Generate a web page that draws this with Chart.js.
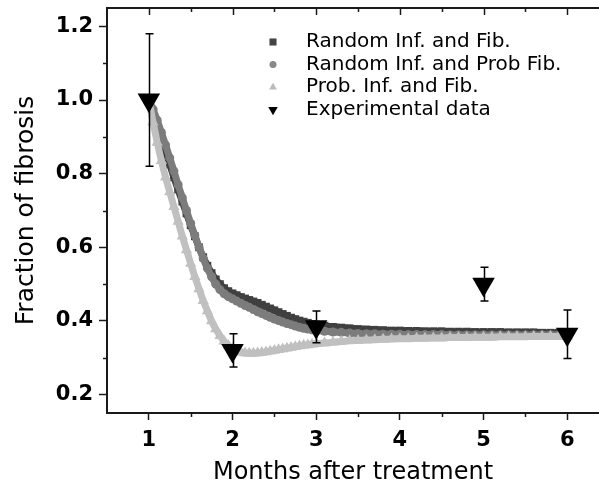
<!DOCTYPE html>
<html>
<head>
<meta charset="utf-8">
<script src="https://cdn.jsdelivr.net/npm/chart.js@4.4.0/dist/chart.umd.min.js"></script>
<style>
  html, body { margin: 0; padding: 0; background: #fff; overflow: hidden; }
  #wrap { width: 599px; height: 488px; position: relative; }
  #wrap canvas { display: block; }
</style>
</head>
<body>
<div id="wrap"><canvas id="fibrosisChart"></canvas></div>
<script>
// months after treatment for the simulated curves
const months = [1, 1.05, 1.1, 1.15, 1.2, 1.25, 1.3, 1.35, 1.4, 1.45, 1.5, 1.55, 1.6, 1.65, 1.7, 1.75, 1.8, 1.85, 1.9, 1.95, 2,
  2.05, 2.1, 2.15, 2.2, 2.25, 2.3, 2.35, 2.4, 2.45, 2.5, 2.55, 2.6, 2.65, 2.7, 2.75, 2.8, 2.85, 2.9, 2.95, 3,
  3.1, 3.2, 3.3, 3.4, 3.5, 3.6, 3.7, 3.8, 3.9, 4, 4.1, 4.2, 4.3, 4.4, 4.5, 4.6, 4.7, 4.8, 4.9, 5,
  5.1, 5.2, 5.3, 5.4, 5.5, 5.6, 5.7, 5.8, 5.9, 6];

const randomInfFib = [1.0, 0.965, 0.93, 0.895, 0.86, 0.825, 0.79, 0.757, 0.724, 0.692, 0.66, 0.63, 0.6, 0.573, 0.55, 0.53, 0.513, 0.5, 0.489, 0.481, 0.475,
  0.47, 0.465, 0.461, 0.457, 0.453, 0.449, 0.444, 0.439, 0.434, 0.429, 0.424, 0.419, 0.414, 0.409, 0.405, 0.401, 0.398, 0.395, 0.392, 0.39,
  0.387, 0.384, 0.382, 0.38, 0.378, 0.377, 0.376, 0.375, 0.374, 0.374, 0.373, 0.373, 0.372, 0.372, 0.372, 0.371, 0.371, 0.371, 0.37, 0.37,
  0.37, 0.37, 0.369, 0.369, 0.369, 0.369, 0.368, 0.368, 0.368, 0.368];

const randomInfProbFib = [1.0, 0.975, 0.945, 0.912, 0.878, 0.843, 0.807, 0.77, 0.735, 0.7, 0.665, 0.632, 0.6, 0.57, 0.543, 0.52, 0.5, 0.485, 0.474, 0.466, 0.46,
  0.454, 0.448, 0.442, 0.437, 0.431, 0.425, 0.42, 0.415, 0.41, 0.405, 0.401, 0.397, 0.393, 0.39, 0.386, 0.383, 0.38, 0.378, 0.376, 0.374,
  0.372, 0.37, 0.369, 0.367, 0.366, 0.365, 0.365, 0.364, 0.364, 0.364, 0.363, 0.363, 0.363, 0.363, 0.363, 0.362, 0.362, 0.362, 0.362, 0.362,
  0.362, 0.362, 0.362, 0.362, 0.362, 0.362, 0.362, 0.362, 0.362, 0.362];

const probInfFib = [1.0, 0.94, 0.885, 0.835, 0.79, 0.75, 0.71, 0.67, 0.63, 0.593, 0.556, 0.52, 0.487, 0.455, 0.427, 0.4, 0.378, 0.36, 0.345, 0.333, 0.325,
  0.319, 0.315, 0.313, 0.312, 0.312, 0.313, 0.314, 0.316, 0.318, 0.32, 0.322, 0.324, 0.326, 0.328, 0.33, 0.332, 0.334, 0.335, 0.337, 0.338,
  0.34, 0.342, 0.344, 0.346, 0.347, 0.348, 0.349, 0.35, 0.351, 0.352, 0.352, 0.353, 0.353, 0.354, 0.354, 0.355, 0.355, 0.355, 0.356, 0.356,
  0.356, 0.357, 0.357, 0.357, 0.357, 0.358, 0.358, 0.358, 0.358, 0.358];

// experimental data with error bars
const expMonths = [1, 2, 3, 5, 6];
const expValues = [1.0, 0.32, 0.384, 0.5, 0.364];
const expErrors = [0.18, 0.045, 0.043, 0.046, 0.066];

const xMajorTicks = [1, 2, 3, 4, 5, 6];
const xMinorTicks = [1.5, 2.5, 3.5, 4.5, 5.5];
const yMajorTicks = [0.2, 0.4, 0.6, 0.8, 1.0, 1.2];
const yMinorTicks = [0.3, 0.5, 0.7, 0.9, 1.1];

const seriesLabels = ['Random Inf. and Fib.', 'Random Inf. and Prob Fib.', 'Prob. Inf. and Fib.', 'Experimental data'];

const axisColor = '#1a1a1a';
const fontFamily = '"DejaVu Sans", sans-serif';
Chart.defaults.font.family = fontFamily;

function toPoints(xs, ys) {
  return xs.map((x, i) => ({ x: x, y: ys[i] }));
}

// extra ticks: minor ticks and the top frame
const frameTicks = {
  id: 'frameTicks',
  afterDraw(chart) {
    const c = chart.ctx, area = chart.chartArea;
    const xs = chart.scales.x, ys = chart.scales.y;
    c.save();
    c.strokeStyle = axisColor;
    c.lineWidth = 2;
    c.beginPath();
    c.moveTo(area.left - 1, area.top);
    c.lineTo(area.right, area.top);
    c.stroke();
    c.lineWidth = 1.5;
    c.beginPath();
    xMinorTicks.forEach(v => {
      const px = Math.round(xs.getPixelForValue(v)) + 0.5;
      c.moveTo(px, area.bottom);
      c.lineTo(px, area.bottom + 4);
      c.moveTo(px, area.top);
      c.lineTo(px, area.top + 4);
    });
    xMajorTicks.forEach(v => {
      const px = Math.round(xs.getPixelForValue(v)) + 0.5;
      c.moveTo(px, area.top);
      c.lineTo(px, area.top + 7);
    });
    yMinorTicks.forEach(v => {
      const py = Math.round(ys.getPixelForValue(v)) + 0.5;
      c.moveTo(area.left, py);
      c.lineTo(area.left - 4, py);
    });
    c.stroke();
    c.restore();
  }
};

const errorBars = {
  id: 'errorBars',
  afterDatasetsDraw(chart) {
    const c = chart.ctx;
    const xs = chart.scales.x, ys = chart.scales.y;
    c.save();
    c.strokeStyle = '#000';
    c.lineWidth = 1.5;
    expMonths.forEach((m, i) => {
      const px = Math.round(xs.getPixelForValue(m)) + 0.5;
      const top = ys.getPixelForValue(expValues[i] + expErrors[i]);
      const bot = ys.getPixelForValue(expValues[i] - expErrors[i]);
      c.beginPath();
      c.moveTo(px, top);
      c.lineTo(px, bot);
      c.moveTo(px - 4, top);
      c.lineTo(px + 4, top);
      c.moveTo(px - 4, bot);
      c.lineTo(px + 4, bot);
      c.stroke();
    });
    c.restore();
  }
};

// legend inside the plot, top right
const legendRadius = [5, 3.5, 4.5, 5.5];
const legendColors = ['#444444', '#888888', '#bbbbbb', '#000000'];
const innerLegend = {
  id: 'innerLegend',
  afterDraw(chart) {
    const c = chart.ctx, area = chart.chartArea;
    const mx = area.left + 166, tx = area.left + 199, y0 = area.top + 34, dy = 22.6;
    c.save();
    c.font = '20px ' + fontFamily;
    c.textBaseline = 'middle';
    c.textAlign = 'left';
    chart.data.datasets.forEach((ds, i) => {
      const y = y0 + i * dy;
      c.fillStyle = legendColors[i];
      Chart.helpers.drawPoint(c, {
        pointStyle: ds.pointStyle,
        radius: legendRadius[i],
        rotation: ds.rotation || 0,
        borderWidth: 0
      }, mx, y);
      c.fillStyle = '#000';
      c.fillText(ds.label, tx, y);
    });
    c.restore();
  }
};

const data = {
  datasets: [
    {
      label: seriesLabels[0],
      data: toPoints(months, randomInfFib),
      showLine: true,
      cubicInterpolationMode: 'monotone',
      borderColor: '#404040',
      borderWidth: 7,
      pointStyle: 'rect',
      pointRadius: 5.5,
      pointBackgroundColor: '#404040',
      pointBorderWidth: 0,
      order: 3
    },
    {
      label: seriesLabels[1],
      data: toPoints(months, randomInfProbFib),
      showLine: true,
      cubicInterpolationMode: 'monotone',
      borderColor: '#7c7c7c',
      borderWidth: 7,
      pointStyle: 'circle',
      pointRadius: 4.5,
      pointBackgroundColor: '#7c7c7c',
      pointBorderWidth: 0,
      order: 2
    },
    {
      label: seriesLabels[2],
      data: toPoints(months, probInfFib),
      showLine: true,
      cubicInterpolationMode: 'monotone',
      borderColor: '#c0c0c0',
      borderWidth: 7,
      pointStyle: 'triangle',
      pointRadius: 6.5,
      pointBackgroundColor: '#c0c0c0',
      pointBorderWidth: 0,
      order: 1
    },
    {
      label: seriesLabels[3],
      data: toPoints(expMonths, expValues),
      showLine: false,
      pointStyle: 'triangle',
      rotation: 180,
      pointRotation: 180,
      pointRadius: 13,
      pointBackgroundColor: '#000',
      pointBorderWidth: 0,
      order: 0
    }
  ]
};

new Chart(document.getElementById('fibrosisChart'), {
  type: 'scatter',
  data: data,
  plugins: [frameTicks, errorBars, innerLegend],
  options: {
    responsive: true,
    maintainAspectRatio: false,
    animation: false,
    devicePixelRatio: 1,
    layout: { autoPadding: false, padding: { top: 8, right: 0, bottom: 0, left: 0 } },
    plugins: {
      legend: { display: false },
      tooltip: { enabled: false }
    },
    scales: {
      x: {
        type: 'linear',
        min: 0.5,
        max: 6.38,
        afterBuildTicks: s => { s.ticks = xMajorTicks.map(v => ({ value: v })); },
        afterFit: s => {
          s.height = 75;
          s.paddingLeft = 0;
          s.paddingRight = 0;
        },
        grid: { drawOnChartArea: false, drawTicks: true, tickLength: 7, tickWidth: 1.5, tickColor: axisColor },
        border: { color: axisColor, width: 2 },
        ticks: {
          color: '#000',
          padding: 8,
          maxRotation: 0,
          font: { family: fontFamily, size: 21, weight: 'bold' },
          callback: v => String(v)
        },
        title: {
          display: true,
          text: 'Months after treatment',
          color: '#000',
          font: { family: fontFamily, size: 24 },
          padding: { top: 0, bottom: 1 }
        }
      },
      y: {
        type: 'linear',
        min: 0.15,
        max: 1.25,
        afterBuildTicks: s => { s.ticks = yMajorTicks.map(v => ({ value: v })); },
        afterFit: s => {
          s.width = 107;
          s.paddingTop = 0;
          s.paddingBottom = 0;
        },
        grid: { drawOnChartArea: false, drawTicks: true, tickLength: 8, tickWidth: 1.5, tickColor: axisColor },
        border: { color: axisColor, width: 2 },
        ticks: {
          color: '#000',
          padding: 6,
          font: { family: fontFamily, size: 21, weight: 'bold' },
          callback: v => Number(v).toFixed(1)
        },
        title: {
          display: true,
          text: 'Fraction of fibrosis',
          color: '#000',
          font: { family: fontFamily, size: 25 },
          padding: { top: 11, bottom: 0 }
        }
      }
    }
  }
});
</script>
</body>
</html>
